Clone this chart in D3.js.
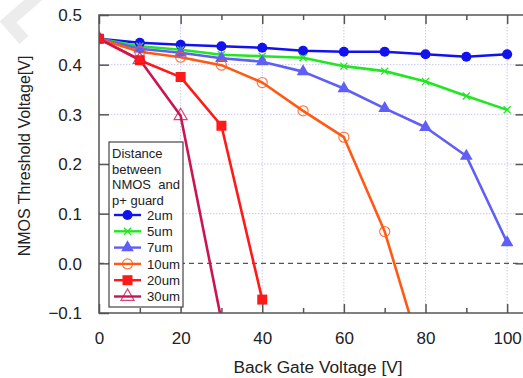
<!DOCTYPE html>
<html>
<head>
<meta charset="utf-8">
<script src="https://cdn.jsdelivr.net/npm/d3@7"></script>
<style>
  body { margin: 0; background: #fff; }
  svg { display: block; font-family: "Liberation Sans", Arial, sans-serif; }
</style>
</head>
<body>
<div id="chart"></div>
<script>
// back gate voltages [V]
const voltages = [0, 10, 20, 30, 40, 50, 60, 70, 80, 90, 100];

// threshold voltage per guard distance
const vt2um  = [0.452, 0.444, 0.440, 0.437, 0.434, 0.428, 0.426, 0.426, 0.421, 0.416, 0.421];
const vt5um  = [0.452, 0.437, 0.430, 0.420, 0.417, 0.414, 0.397, 0.387, 0.366, 0.337, 0.309];
const vt7um  = [0.452, 0.432, 0.424, 0.413, 0.406, 0.386, 0.352, 0.312, 0.274, 0.216, 0.042];
const vt10um = [0.452, 0.426, 0.415, 0.399, 0.364, 0.307, 0.254, 0.064, -0.21];
const vt20um = [0.452, 0.409, 0.375, 0.277, -0.073];
const vt30um = [0.452, 0.410, 0.297, -0.115];

const seriesNames = ["2um", "5um", "7um", "10um", "20um", "30um"];
const legendTitle = ["Distance", "between", "NMOS  and", "p+ guard"];

const xTicks = [0, 20, 40, 60, 80, 100];
const xMinor = [10, 30, 50, 70, 90];
const yTicks = [-0.1, 0.0, 0.1, 0.2, 0.3, 0.4, 0.5];

const series = [
  {name: seriesNames[0], values: vt2um,  color: "#1212ee", symbol: d3.symbolCircle,   size: 80, fill: true},
  {name: seriesNames[1], values: vt5um,  color: "#22e622", symbol: d3.symbolCross,    size: 70, fill: false, xmark: true},
  {name: seriesNames[2], values: vt7um,  color: "#5f5ff5", symbol: d3.symbolTriangle, size: 70, fill: true},
  {name: seriesNames[3], values: vt10um, color: "#ff5a14", symbol: d3.symbolCircle,   size: 80, fill: false},
  {name: seriesNames[4], values: vt20um, color: "#ff1a1a", symbol: d3.symbolSquare,   size: 100, fill: true},
  {name: seriesNames[5], values: vt30um, color: "#cc1452", symbol: d3.symbolTriangle, size: 75, fill: false}
];

const width = 523, height = 378;
const margin = {top: 15, left: 99, bottom: 65};

const x = d3.scaleLinear().domain([0, 104.5]).range([margin.left, 525.5]);
const y = d3.scaleLinear().domain([-0.1, 0.5]).range([height - margin.bottom, margin.top]);

const svg = d3.select("#chart").append("svg")
  .attr("width", width).attr("height", height);

// faint watermark in the corner
svg.append("path")
  .attr("d", "M40,-6 L8,22 L24,40")
  .attr("fill", "none").attr("stroke", "#ececec").attr("stroke-width", 12);

const x0 = x(0), x1 = x.range()[1], y0 = y(-0.1), y1 = y(0.5);

// grid
const grid = svg.append("g");
grid.selectAll("line.gx").data(xTicks.filter(d => d > 0)).enter().append("line")
  .attr("x1", d => x(d)).attr("x2", d => x(d)).attr("y1", y1).attr("y2", y0)
  .attr("stroke", "#c9c9f2").attr("stroke-width", 1).attr("stroke-dasharray", "1.5,1.5");
grid.selectAll("line.gy").data(yTicks.filter(d => d > 0.05 && d < 0.45)).enter().append("line")
  .attr("x1", x0).attr("x2", x1).attr("y1", d => y(d)).attr("y2", d => y(d))
  .attr("stroke", "#c9c9f2").attr("stroke-width", 1).attr("stroke-dasharray", "1.5,1.5");
grid.append("line")
  .attr("x1", x0).attr("x2", x1).attr("y1", y(0)).attr("y2", y(0))
  .attr("stroke", "#555").attr("stroke-width", 1.3).attr("stroke-dasharray", "5,4");

// data
svg.append("clipPath").attr("id", "clip").append("rect")
  .attr("x", x0).attr("y", y1).attr("width", x1 - x0).attr("height", y0 - y1);

const plot = svg.append("g").attr("clip-path", "url(#clip)");
const line = d3.line().x((d, i) => x(voltages[i])).y(d => y(d));

function drawMarker(g, s, cx, cy) {
  const p = g.append("path")
    .attr("d", d3.symbol().type(s.symbol).size(s.size)())
    .attr("transform", `translate(${cx},${cy})` + (s.xmark ? " rotate(45)" : ""));
  if (s.xmark) {
    p.attr("d", "M-5,0 L5,0 M0,-5 L0,5").attr("stroke", s.color).attr("stroke-width", 1.3).attr("fill", "none");
  } else if (s.fill) {
    p.attr("fill", s.color);
  } else {
    p.attr("fill", "none").attr("stroke", s.color).attr("stroke-width", 1.2).attr("stroke-opacity", 0.8);
  }
}

series.forEach(s => {
  plot.append("path").datum(s.values)
    .attr("d", line).attr("fill", "none")
    .attr("stroke", s.color).attr("stroke-width", 2.6).attr("stroke-linejoin", "round");
});
series.forEach(s => {
  s.values.forEach((v, i) => drawMarker(plot, s, x(voltages[i]), y(v)));
});

// frame and axes
const axisColor = "#555";
svg.append("rect").attr("x", x0).attr("y", y1).attr("width", x1 - x0).attr("height", y0 - y1)
  .attr("fill", "none").attr("stroke", axisColor).attr("stroke-width", 1.5);

const gBottom = svg.append("g").attr("transform", `translate(0,${y0})`)
  .call(d3.axisBottom(x).tickValues(xTicks).tickSize(-9).tickPadding(19).tickFormat(d3.format("d")));
const gBottomMinor = svg.append("g").attr("transform", `translate(0,${y0})`)
  .call(d3.axisBottom(x).tickValues(xMinor).tickSize(-5).tickFormat(""));
const gTop = svg.append("g").attr("transform", `translate(0,${y1})`)
  .call(d3.axisTop(x).tickValues(xTicks).tickSize(-9).tickFormat(""));
const gTopMinor = svg.append("g").attr("transform", `translate(0,${y1})`)
  .call(d3.axisTop(x).tickValues(xMinor).tickSize(-5).tickFormat(""));
const gLeft = svg.append("g").attr("transform", `translate(${x0},0)`)
  .call(d3.axisLeft(y).tickValues(yTicks).tickSize(-10).tickPadding(17).tickFormat(d3.format(".1f")));
const gRight = svg.append("g").attr("transform", `translate(${x1},0)`)
  .call(d3.axisRight(y).tickValues(yTicks.filter(d => d > -0.05 && d < 0.45)).tickSize(-10).tickFormat(""));

[gBottom, gBottomMinor, gTop, gTopMinor, gLeft, gRight].forEach(g => {
  g.select(".domain").remove();
  g.selectAll(".tick line").attr("stroke", axisColor).attr("stroke-width", 1.5);
  g.selectAll(".tick text").attr("fill", "#222").attr("font-size", 17)
    .attr("font-family", "Liberation Sans, Arial, sans-serif");
});
gLeft.selectAll(".tick text").attr("dy", "0.35em");
gBottom.selectAll(".tick text").attr("dy", "0.71em");

// axis titles
svg.append("text").attr("x", 318).attr("y", 373).attr("text-anchor", "middle")
  .attr("font-size", 17.3).attr("fill", "#222").text("Back Gate Voltage [V]");
svg.append("text").attr("transform", "translate(30,156) rotate(-90)")
  .attr("text-anchor", "middle").attr("font-size", 16).attr("fill", "#222")
  .text("NMOS Threshold Voltage[V]");

// legend
const lg = svg.append("g").attr("transform", "translate(109,142)");
lg.append("rect").attr("width", 74).attr("height", 165)
  .attr("fill", "#fff").attr("stroke", "#444").attr("stroke-width", 1.2);
legendTitle.forEach((t, i) => {
  lg.append("text").attr("x", 3).attr("y", 16 + i * 15.6)
    .attr("font-size", 13).attr("fill", "#222").attr("xml:space", "preserve").text(t);
});
series.forEach((s, i) => {
  const cy = 73 + i * 16.3;
  lg.append("line").attr("x1", 5).attr("x2", 32).attr("y1", cy).attr("y2", cy)
    .attr("stroke", s.color).attr("stroke-width", 2.4);
  drawMarker(lg, s, 18.5, cy);
  lg.append("text").attr("x", 38).attr("y", cy + 4.8)
    .attr("font-size", 13.2).attr("fill", "#222").text(s.name);
});
</script>
</body>
</html>
